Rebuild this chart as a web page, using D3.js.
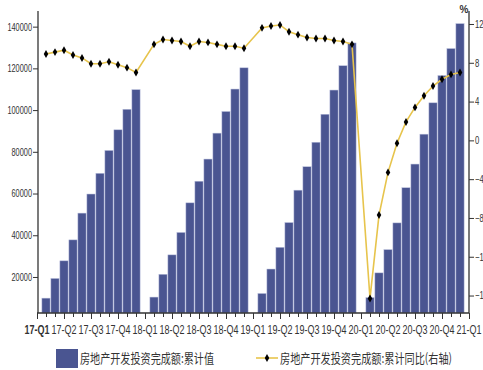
<!DOCTYPE html>
<html>
<head>
<meta charset="utf-8">
<script src="https://cdn.jsdelivr.net/npm/d3@7"></script>
<style>
  html, body { margin: 0; padding: 0; background: #fff; }
  svg { display: block; }
  .tick-txt { font-family: "Liberation Sans", Arial, sans-serif; fill: #333; }
</style>
</head>
<body>
<svg id="chart" width="483" height="370"></svg>
<script>
// Reporting periods (Jan–Feb is reported together, so each year starts in February)
const periods = [
  "2017-02","2017-03","2017-04","2017-05","2017-06","2017-07","2017-08","2017-09","2017-10","2017-11","2017-12",
  "2018-02","2018-03","2018-04","2018-05","2018-06","2018-07","2018-08","2018-09","2018-10","2018-11","2018-12",
  "2019-02","2019-03","2019-04","2019-05","2019-06","2019-07","2019-08","2019-09","2019-10","2019-11","2019-12",
  "2020-02","2020-03","2020-04","2020-05","2020-06","2020-07","2020-08","2020-09","2020-10","2020-11","2020-12"
];
// 房地产开发投资完成额:累计值 (亿元)
const cumulative = [
  9854, 19292, 27732, 37778, 50610, 59761, 69694, 80644, 90544, 100387, 109799,
  10357, 21291, 30592, 41341, 55531, 65901, 76519, 88948, 99325, 110083, 120264,
  12090, 23803, 34217, 46075, 61609, 72843, 84589, 98008, 109603, 121265, 132194,
  10115, 21963, 33103, 45920, 62780, 74121, 88454, 103484, 116556, 129492, 141443
];
// 房地产开发投资完成额:累计同比 (%)
const yoy = [
  8.9, 9.1, 9.3, 8.8, 8.5, 7.9, 7.9, 8.1, 7.8, 7.5, 7.0,
  9.9, 10.4, 10.3, 10.2, 9.7, 10.2, 10.1, 9.9, 9.7, 9.7, 9.5,
  11.6, 11.8, 11.9, 11.2, 10.9, 10.6, 10.5, 10.5, 10.3, 10.2, 9.9,
  -16.3, -7.7, -3.3, -0.3, 1.9, 3.4, 4.6, 5.6, 6.3, 6.8, 7.0
];
const quarterLabels = ["17-Q1","17-Q2","17-Q3","17-Q4","18-Q1","18-Q2","18-Q3","18-Q4",
  "19-Q1","19-Q2","19-Q3","19-Q4","20-Q1","20-Q2","20-Q3","20-Q4","21-Q1"];
const leftTicks = [20000, 40000, 60000, 80000, 100000, 120000, 140000];
const rightTicks = [-16, -12, -8, -4, 0, 4, 8, 12];
const legendLabels = ["房地产开发投资完成额:累计值", "房地产开发投资完成额:累计同比(右轴)"];

// every calendar month on the axis, Jan 2017 .. Jan 2021
const allMonths = [];
for (let yr = 2017; yr <= 2021; yr++) {
  for (let m = 1; m <= 12; m++) {
    if (yr === 2021 && m > 1) break;
    allMonths.push(`${yr}-${String(m).padStart(2, "0")}`);
  }
}
const quarterMonth = q => {
  const [yy, qq] = q.split("-Q");
  return `20${yy}-${String((+qq - 1) * 3 + 1).padStart(2, "0")}`;
};

const svg = d3.select("#chart");
const plotLeft = 37, plotRight = 469, plotTop = 11, plotBottom = 313;

const x = d3.scalePoint().domain(allMonths).range([plotLeft, plotRight]);
const yL = d3.scaleLinear().domain([2730, 147500]).range([plotBottom, plotTop]);
const yR = d3.scaleLinear().domain([-17.8, 13.34]).range([plotBottom, plotTop]);

const barColor = "#4a5591";
const lineColor = "#e7c44c";
const axisColor = "#333";

// condensed numerals: fixed advance per character
const narrow = (sel, perChar) => sel
  .attr("textLength", function () { return this.textContent.length * perChar; })
  .attr("lengthAdjust", "spacingAndGlyphs");

// bars
const barW = 8.2;
svg.append("g").selectAll("rect")
  .data(periods.map((p, i) => ({ p, v: cumulative[i] })))
  .join("rect")
  .attr("x", d => x(d.p) - barW / 2)
  .attr("width", barW)
  .attr("y", d => yL(d.v))
  .attr("height", d => plotBottom - yL(d.v))
  .attr("fill", barColor)
  .attr("stroke", "#b9bfdc")
  .attr("stroke-width", 0.5);

// year-on-year line with diamond markers
const pts = periods.map((p, i) => ({ p, v: yoy[i] }));
svg.append("path")
  .datum(pts)
  .attr("fill", "none")
  .attr("stroke", lineColor)
  .attr("stroke-width", 1.6)
  .attr("d", d3.line().x(d => x(d.p)).y(d => yR(d.v)));

const diamond = d3.symbol().type(d3.symbolDiamond).size(18);
svg.append("g").selectAll("path")
  .data(pts)
  .join("path")
  .attr("transform", d => `translate(${x(d.p)},${yR(d.v)})`)
  .attr("d", diamond)
  .attr("fill", "#000");

// left axis
const gL = svg.append("g").attr("transform", `translate(${plotLeft + 1},0)`)
  .call(d3.axisLeft(yL).tickValues(leftTicks).tickSize(5).tickPadding(1).tickFormat(d3.format("d")));
gL.select(".domain").attr("d", `M0,${plotTop}V${plotBottom}`).attr("stroke", axisColor).attr("stroke-width", 1.3);
gL.selectAll(".tick line").attr("stroke", axisColor);
gL.selectAll(".tick text").attr("class", "tick-txt").attr("font-size", 10.5).call(narrow, 4.1);

// right axis (its labels run past the window edge)
const gR = svg.append("g").attr("transform", `translate(${plotRight},0)`)
  .call(d3.axisRight(yR).tickValues(rightTicks).tickSize(5).tickPadding(1));
gR.select(".domain").attr("d", `M0,${plotTop}V${plotBottom}`).attr("stroke", axisColor).attr("stroke-width", 1.3);
gR.selectAll(".tick line").attr("stroke", axisColor);
gR.selectAll(".tick text").attr("class", "tick-txt").attr("font-size", 10.5).call(narrow, 4.3);
svg.append("text").attr("x", 464).attr("y", 13).attr("text-anchor", "middle")
  .attr("class", "tick-txt").attr("font-size", 10).attr("font-weight", "bold").attr("fill", "#222").text("%");

// bottom axis: monthly minor ticks, quarterly labels
const gX = svg.append("g").attr("transform", `translate(0,${plotBottom})`)
  .call(d3.axisBottom(x).tickValues(allMonths).tickSize(4).tickFormat(""));
gX.select(".domain").attr("d", `M${plotLeft},0H${plotRight}`).attr("stroke", axisColor).attr("stroke-width", 1.3);
gX.selectAll(".tick line").attr("stroke", axisColor);
const qMonths = quarterLabels.map(quarterMonth);
gX.selectAll(".tick").filter(d => qMonths.includes(d)).select("line").attr("y2", 6);
svg.append("g").selectAll("text")
  .data(quarterLabels)
  .join("text")
  .attr("class", "tick-txt")
  .attr("x", d => x(quarterMonth(d)))
  .attr("y", 334)
  .attr("text-anchor", "middle")
  .attr("font-size", 12.5)
  .attr("font-weight", (d, i) => i === 0 ? "bold" : "normal")
  .attr("fill", (d, i) => i === 0 ? "#111" : "#333")
  .text(d => d)
  .call(narrow, 5.0);

// legend
const legendFont = '"Noto Sans CJK SC", sans-serif';
svg.append("rect").attr("x", 56).attr("y", 349).attr("width", 22).attr("height", 19).attr("fill", barColor);
svg.append("text").attr("x", 80).attr("y", 363).attr("font-family", legendFont).attr("font-size", 13)
  .attr("fill", "#333").attr("textLength", 134).attr("lengthAdjust", "spacingAndGlyphs").text(legendLabels[0]);
svg.append("line").attr("x1", 256).attr("x2", 278).attr("y1", 358).attr("y2", 358)
  .attr("stroke", lineColor).attr("stroke-width", 1.6);
svg.append("path").attr("transform", "translate(267,358)").attr("d", diamond).attr("fill", "#000");
svg.append("text").attr("x", 280).attr("y", 363).attr("font-family", legendFont).attr("font-size", 13)
  .attr("fill", "#333").attr("textLength", 172).attr("lengthAdjust", "spacingAndGlyphs").text(legendLabels[1]);
</script>
</body>
</html>
